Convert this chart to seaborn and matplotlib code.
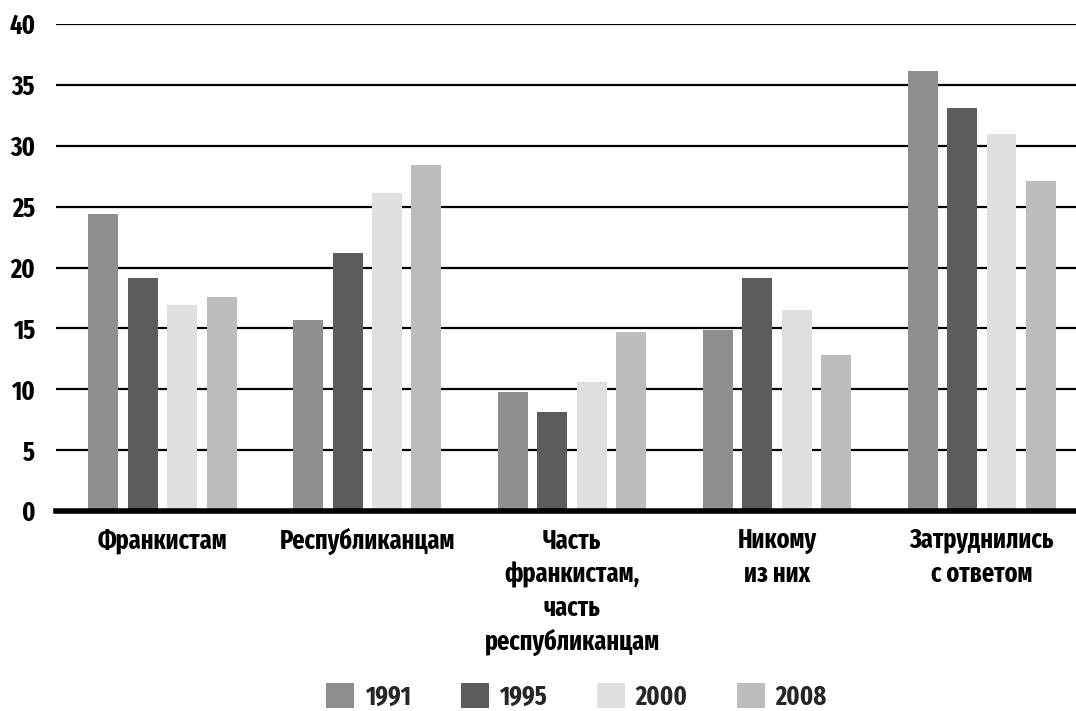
import matplotlib
matplotlib.use("Agg")
import matplotlib.pyplot as plt
import seaborn as sns
import pandas as pd

# Survey shares (%) by answer category and year
categories = ["Франкистам", "Республиканцам",
              "Часть\nфранкистам,\nчасть\nреспубликанцам",
              "Никому\nиз них", "Затруднились\nс ответом"]
years = ["1991", "1995", "2000", "2008"]
v1991 = [24.4, 15.7, 9.8, 14.9, 36.1]
v1995 = [19.1, 21.2, 8.1, 19.1, 33.1]
v2000 = [16.9, 26.1, 10.6, 16.5, 31.0]
v2008 = [17.6, 28.4, 14.7, 12.8, 27.1]
colors = ["#8f8f8f", "#5c5c5c", "#e0e0e0", "#bdbdbd"]

rows = []
for yr, vals in zip(years, [v1991, v1995, v2000, v2008]):
    for cat, v in zip(categories, vals):
        rows.append({"cat": cat, "year": yr, "value": v})
df = pd.DataFrame(rows)

sns.set_theme(style="white")
FONT = ["Fira Sans Extra Condensed", "PT Sans Narrow", "Roboto Condensed",
        "DejaVu Sans"]
plt.rcParams["font.family"] = FONT
plt.rcParams["font.weight"] = "bold"

fig = plt.figure(figsize=(10.76, 7.11), dpi=100)
ax = fig.add_axes([56 / 1076, 1 - 511 / 711, 1 - 56 / 1076, (511 - 24) / 711])

sns.barplot(data=df, x="cat", y="value", hue="year", order=categories,
            hue_order=years, palette=colors, width=0.77, gap=0.24,
            saturation=1, linewidth=0, ax=ax, zorder=3)

ax.set_xlim(-0.52, 4.46)
ax.set_ylim(0, 40)
ax.set_yticks(range(0, 41, 5))
ax.yaxis.grid(True, color="black", linewidth=1.6, zorder=0)
ax.set_axisbelow(True)
ax.set_xlabel("")
ax.set_ylabel("")

for side in ["top", "right", "left"]:
    ax.spines[side].set_visible(False)
ax.spines["bottom"].set_linewidth(4)
ax.spines["bottom"].set_color("black")
ax.spines["bottom"].set_zorder(5)

ax.tick_params(axis="y", length=0, pad=15, labelsize=19)
ax.tick_params(axis="x", which="major", length=0, pad=12, labelsize=19)
ax.set_xticks([0.5, 1.5, 2.5, 3.5], minor=True)
ax.tick_params(axis="x", which="minor", length=12, width=1.6,
               color="black", direction="out")
for lab in ax.get_xticklabels() + ax.get_yticklabels():
    lab.set_fontweight("bold")
    lab.set_color("black")
for lab in ax.get_xticklabels():
    lab.set_linespacing(1.35)

handles, labels = ax.get_legend_handles_labels()
ax.legend_.remove()
fig.legend(handles, labels, loc="center", bbox_to_anchor=(0.536, 0.02),
           ncol=4, frameon=False, handlelength=1.05, handleheight=1.05,
           handletextpad=0.4, columnspacing=1.9, borderpad=0,
           prop={"family": FONT, "weight": "bold", "size": 19})

fig.savefig("out.png", dpi=100)
